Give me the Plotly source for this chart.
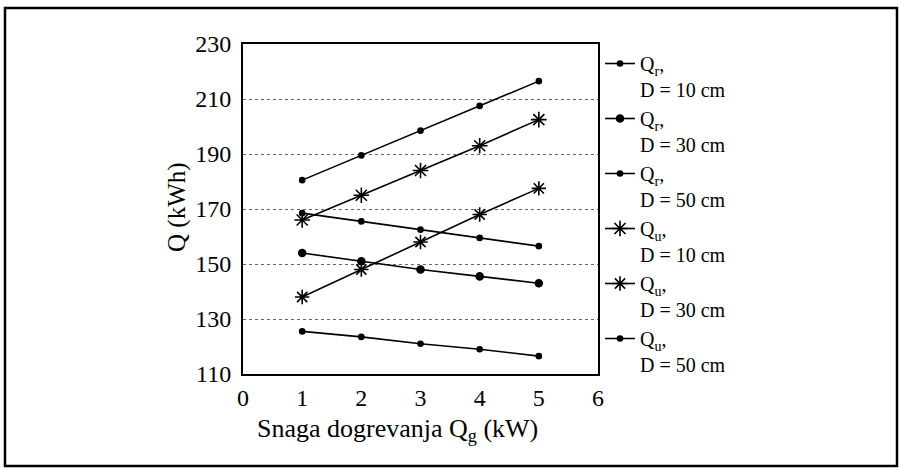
import plotly.graph_objects as go

x_vals = [1, 2, 3, 4, 5]
qr_10 = [180.5, 189.5, 198.5, 207.5, 216.5]
qr_30 = [154, 151, 148, 145.5, 143]
qr_50 = [168.5, 165.5, 162.5, 159.5, 156.5]
qu_10 = [166, 175, 184, 193, 202.5]
qu_30 = [138, 148, 158, 168, 177.5]
qu_50 = [125.5, 123.5, 121, 119, 116.5]

names = [
    "Q<sub>r</sub>,<br>D = 10 cm",
    "Q<sub>r</sub>,<br>D = 30 cm",
    "Q<sub>r</sub>,<br>D = 50 cm",
    "Q<sub>u</sub>,<br>D = 10 cm",
    "Q<sub>u</sub>,<br>D = 30 cm",
    "Q<sub>u</sub>,<br>D = 50 cm",
]
series = [qr_10, qr_30, qr_50, qu_10, qu_30, qu_50]
symbols = ["circle", "circle", "circle", "asterisk-open", "asterisk-open", "circle"]
sizes = [5, 7, 5, 13, 12, 5]

FONT = "Liberation Serif"

fig = go.Figure()
for nm, ys, sym, sz in zip(names, series, symbols, sizes):
    fig.add_trace(go.Scatter(
        x=x_vals, y=ys, name=nm, mode="lines+markers",
        line=dict(color="black", width=1.6),
        marker=dict(symbol=sym, size=sz, color="black",
                    line=dict(color="black", width=1.6)),
    ))

# plot area pixels: x 243..598, y 44..374
L, R, T, B = 243, 598, 44, 374
W, H = R - L, B - T

def px(xp):
    return (xp - L) / W

def py(yp):
    return (B - yp) / H

fig.update_layout(
    width=899, height=468,
    margin=dict(l=L, r=899 - R, t=T, b=468 - B, pad=0),
    paper_bgcolor="white", plot_bgcolor="white",
    font=dict(family=FONT, size=24, color="black"),
    showlegend=True,
    legend=dict(
        x=px(600), y=py(44), xanchor="left", yanchor="top",
        font=dict(family=FONT, size=20, color="black"),
        valign="top", tracegroupgap=0, itemwidth=30,
        bgcolor="rgba(0,0,0,0)", maxheight=420,
    ),
    xaxis=dict(
        range=[0, 6], tickvals=[0, 1, 2, 3, 4, 5, 6],
        showgrid=False, zeroline=False,
        showline=True, linecolor="black", linewidth=2, mirror=True,
        ticks="", tickfont=dict(family=FONT, size=24, color="black"),
        ticklabelstandoff=1,
    ),
    yaxis=dict(
        range=[110, 230], tickvals=[110, 130, 150, 170, 190, 210, 230],
        showgrid=True, gridcolor="#666666", griddash="dot", gridwidth=1,
        zeroline=False,
        showline=True, linecolor="black", linewidth=2, mirror=True,
        ticks="", tickfont=dict(family=FONT, size=24, color="black"),
        ticklabelstandoff=5,
    ),
    annotations=[
        dict(text="Snaga dogrevanja Q<sub>g</sub> (kW)", xref="paper", yref="paper",
             x=px(397), y=py(430), xanchor="center", yanchor="middle",
             showarrow=False, font=dict(family=FONT, size=26, color="black")),
        dict(text="Q (kWh)", xref="paper", yref="paper",
             x=px(177), y=py(207), xanchor="center", yanchor="middle",
             textangle=-90, showarrow=False,
             font=dict(family=FONT, size=25, color="black")),
    ],
    shapes=[
        dict(type="rect", xref="paper", yref="paper",
             x0=px(5), x1=px(897), y0=py(466), y1=py(8),
             line=dict(color="black", width=2.5), layer="below"),
    ],
)

fig.write_html(
    "out.html",
    config={"displayModeBar": False},
    post_script="document.body.style.margin='0';document.body.style.overflow='hidden';",
)
